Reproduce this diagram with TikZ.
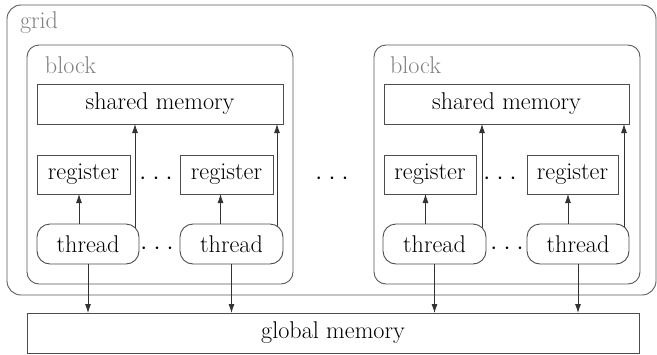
\documentclass[tikz,border=0pt]{standalone}
\usetikzlibrary{arrows.meta,backgrounds,calc}
\begin{document}
\begin{tikzpicture}[x=1pt,y=-1pt,
  every node/.style={font=\rmfamily\fontsize{24.2}{28}\selectfont, text=black, inner sep=0pt, outer sep=0pt},
  container/.style={draw=black!65, line width=0.9pt, rectangle, rounded corners=#1},
  container/.default=12pt,
  membox/.style={draw=black!70, line width=0.9pt, rectangle, fill=white},
  thrbox/.style={draw=black!70, line width=0.9pt, rectangle, rounded corners=13pt, fill=white,
                 minimum height=40pt},
  lbl/.style={anchor=base west, text=black!50},
  dots/.style={anchor=base},
  arr/.style={draw=black!80, line width=0.8pt, -{Latex[length=9pt,width=6pt]}}]

\useasboundingbox (0,0) rectangle (657,354);

% outer grid and the two blocks
\node[container=14pt, minimum width=649pt, minimum height=290pt] (grid) at (331.5,150) {};
\node[lbl] (gridlbl) at (20,28) {grid};

\node[container, minimum width=266pt, minimum height=239pt] (blk1) at (160,164.5) {};
\node[container, minimum width=266pt, minimum height=239pt] (blk2) at (507,164.5) {};
\node[lbl] (blk1lbl) at (45,73) {block};
\node[lbl] (blk2lbl) at (390,73) {block};

% shared memories
\node[membox, minimum width=246pt, minimum height=40pt] (sm1) at (160,104) {shared memory};
\node[membox, minimum width=245pt, minimum height=40pt] (sm2) at (506.5,104) {shared memory};

% registers
\node[membox, minimum width=93pt, minimum height=39pt] (reg1) at (83.5,174.5) {register};
\node[membox, minimum width=93pt, minimum height=39pt] (reg2) at (226.5,174.5) {register};
\node[membox, minimum width=92pt, minimum height=39pt] (reg3) at (430,174.5) {register};
\node[membox, minimum width=91pt, minimum height=39pt] (reg4) at (572.5,174.5) {register};

% threads
\node[thrbox, minimum width=102pt] (thr1) at (88,244) {thread};
\node[thrbox, minimum width=103pt] (thr2) at (231.5,244) {thread};
\node[thrbox, minimum width=103pt] (thr3) at (434.5,244) {thread};
\node[thrbox, minimum width=102pt] (thr4) at (578,244) {thread};

% global memory
\node[membox, minimum width=612pt, minimum height=40pt] (gm) at (333,333) {global memory};

% ellipses
\node[dots] (d1) at (156,184.5) {$\cdotp\mkern1.5mu\cdotp\mkern1.5mu\cdotp$};
\node[dots] (d2) at (157,254.5) {$\cdotp\mkern1.5mu\cdotp\mkern1.5mu\cdotp$};
\node[dots] (d3) at (500,184.5) {$\cdotp\mkern1.5mu\cdotp\mkern1.5mu\cdotp$};
\node[dots] (d4) at (507,254.5) {$\cdotp\mkern1.5mu\cdotp\mkern1.5mu\cdotp$};
\node[dots] (d5) at (332,184.5) {$\cdotp\mkern1.5mu\cdotp\mkern1.5mu\cdotp$};

% thread -> register
\foreach \t/\r/\dx in {thr1/reg1/-9, thr2/reg2/-11, thr3/reg3/-9, thr4/reg4/-10}
  \draw[arr] ([xshift=\dx pt]\t.north) -- ([xshift=\dx pt]\t.north |- \r.south);

% thread -> global memory
\foreach \t in {thr1,thr2,thr3,thr4}
  \draw[arr] (\t.south) -- (\t.south |- gm.north);

% thread -> shared memory (drawn behind the thread boxes)
\begin{scope}[on background layer]
  \foreach \t/\s/\dx in {thr1/sm1/-4, thr2/sm1/-6, thr3/sm2/-4, thr4/sm2/-5}
    \draw[arr] ([xshift=\dx pt]\t.east) -- ([xshift=\dx pt]\t.east |- \s.south);
\end{scope}
\end{tikzpicture}
\end{document}
